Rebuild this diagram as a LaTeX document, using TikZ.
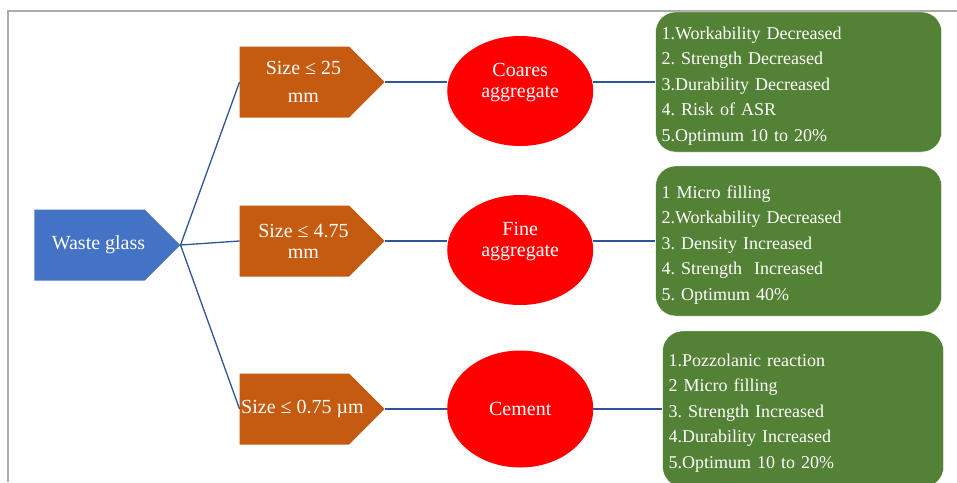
\documentclass[tikz,border=0pt]{standalone}
\usepackage{fontspec}
\setmainfont{Liberation Serif}
\usetikzlibrary{positioning,shapes.geometric,shapes.symbols}
\definecolor{cazul}{HTML}{4472C4}
\definecolor{cnaranja}{HTML}{C55A11}
\definecolor{crojo}{HTML}{FF0000}
\definecolor{cverde}{HTML}{538135}
\definecolor{clinea}{HTML}{2F5597}
\definecolor{cmarco}{HTML}{ABABAB}
\tikzset{
  vidrio/.style={signal, signal to=east, signal pointer angle=90, fill=cazul,
    minimum width=146pt, minimum height=71pt, inner sep=0pt},
  tamano/.style={signal, signal to=east, signal pointer angle=90, fill=cnaranja,
    minimum width=145pt, minimum height=71pt, inner sep=0pt},
  elipse/.style={ellipse, fill=crojo, minimum width=146pt, minimum height=110pt,
    inner sep=0pt},
  etq/.style={text=white, align=center, font=\fontsize{20}{21}\selectfont},
  efecto/.style={rectangle, rounded corners=20pt, fill=cverde, draw=white,
    text=white, align=left, inner xsep=6pt, execute at begin node={\rule{0pt}{20pt}},
    font=\fontsize{18}{25.5}\selectfont},
  linea/.style={draw=clinea, line width=1.3pt},
}
\frenchspacing
\begin{document}
\begin{tikzpicture}[x=1pt, y=-1pt]
  \useasboundingbox (0,0) rectangle (957,482);
  \clip (0,0) rectangle (957,482);
  \draw[cmarco, line width=1.2pt] (8,482) -- (8,11) -- (957,11);
  % source
  \node[vidrio] (wg) at (89.5,245) {};
  \node[etq] (t0) at (wg.center) [xshift=9pt] {Waste glass};
  % sizes
  \node[tamano, right=59pt of wg, yshift=163pt] (sz1) {};
  \node[tamano, right=59pt of wg, yshift=4pt] (sz2) {};
  \node[tamano, right=59pt of wg, yshift=-164pt] (sz3) {};
  \node[etq] (s1) at (sz1.center) [xshift=9pt] {Size ≤ 25\\[7pt]mm};
  \node[etq] (s2) at (sz2.center) [xshift=9pt] {Size ≤ 4.75\\mm};
  \node[etq] (s3) at (sz3.center) [xshift=8pt] {Size ≤ 0.75 µm};
  % materials
  \node[elipse, right=62pt of sz1, yshift=-9pt] (el1) {};
  \node[elipse, right=62pt of sz2, yshift=-9pt] (el2) {};
  \node[elipse, right=62pt of sz3, minimum height=117pt] (el3) {};
  \node[etq] (t1) at (el1.center) [yshift=8pt] {Coares\\aggregate};
  \node[etq] (t2) at (el2.center) [yshift=8pt] {Fine\\aggregate};
  \node[etq] (t3) at (el3.center) {Cement};
  % effects
  \node[efecto, right=62pt of el1, yshift=9pt, text width=274pt, minimum height=140pt] (ef1)
    {1.Workability Decreased\\2. Strength Decreased\\3.Durability Decreased\\4. Risk of ASR\\5.Optimum 10 to 20\%};
  \node[efecto, right=62pt of el2, yshift=9pt, text width=274pt, minimum height=150pt] (ef2)
    {1 Micro filling\\2.Workability Decreased\\3. Density Increased\\4. Strength\ \ Increased\\5. Optimum 40\%};
  \node[efecto, right=69pt of el3, text width=269pt, minimum height=156pt] (ef3)
    {1.Pozzolanic reaction\\2 Micro filling\\3. Strength Increased\\4.Durability Increased\\5.Optimum 10 to 20\%};
  % connectors
  \draw[linea] (wg.east) -- (sz1.west);
  \draw[linea] (wg.east) -- (sz2.west);
  \draw[linea] (wg.east) -- (sz3.west);
  \draw[linea] (sz1.east) -- (sz1.east -| el1.west);
  \draw[linea] (sz2.east) -- (sz2.east -| el2.west);
  \draw[linea] (sz3.east) -- (el3.west);
  \draw[linea] (sz1.east -| el1.east) -- (ef1.west);
  \draw[linea] (sz2.east -| el2.east) -- (ef2.west);
  \draw[linea] (el3.east) -- (ef3.west);
\end{tikzpicture}
\end{document}
